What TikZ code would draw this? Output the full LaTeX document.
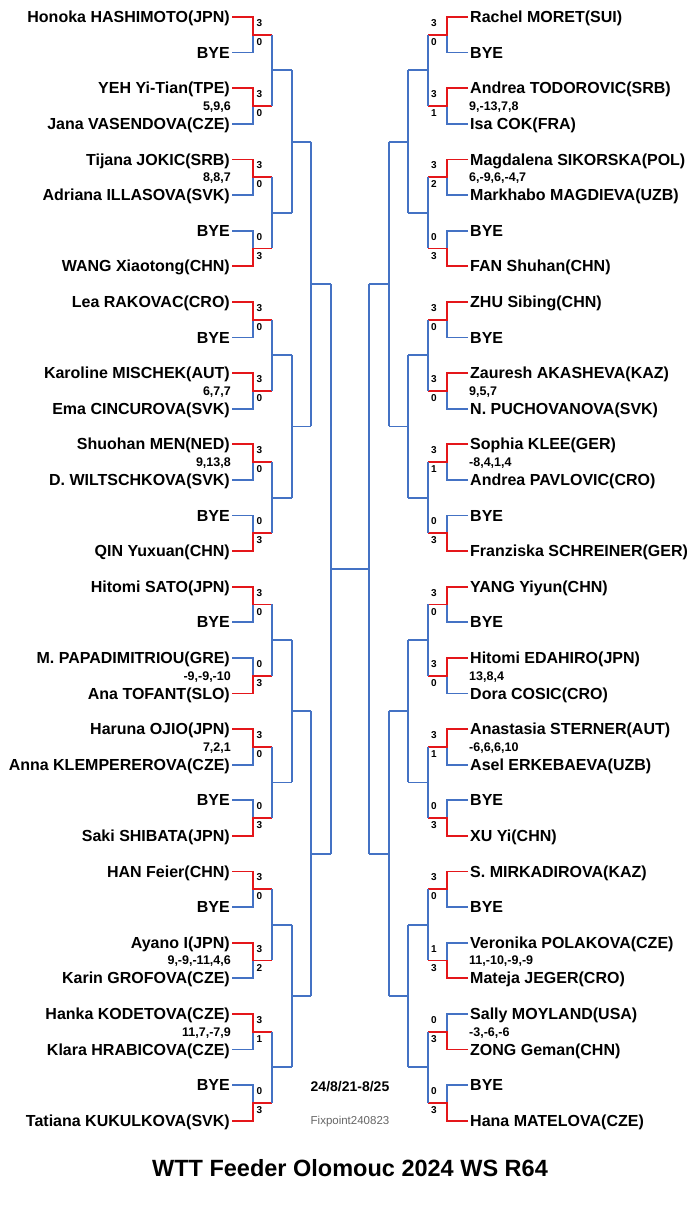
\documentclass[tikz,border=0pt]{standalone}
\usepackage{fontspec}
\setmainfont{Liberation Sans}
\usetikzlibrary{positioning}
\definecolor{LineBlue}{RGB}{68,114,196}
\definecolor{WinRed}{RGB}{228,22,26}

\begin{document}
\begin{tikzpicture}[x=1pt, y=-1pt,
    player/.style={font=\fontsize{16}{17}\selectfont\bfseries, inner sep=2pt, text height=11.5pt, text depth=0pt},
    games/.style={font=\fontsize{12.5}{13}\selectfont\bfseries, inner sep=1pt, text height=9pt, text depth=0pt},
    setno/.style={font=\fontsize{10}{10}\selectfont\bfseries, inner sep=0pt, text height=7.2pt, text depth=0pt},
    conn/.style={line width=1.8pt, LineBlue},
    win/.style={conn, WinRed}]
    \def\rh{35.6} \def\ytop{17}
    % Canvas
    \useasboundingbox (0,0) rectangle (700,1212);
    % Left half, first round
    \foreach \k/\pa/\pb/\sa/\sb/\gs in {
        0/Honoka HASHIMOTO(JPN)/BYE/3/0/{},
        1/YEH Yi-Tian(TPE)/Jana VASENDOVA(CZE)/3/0/{5,9,6},
        2/Tijana JOKIC(SRB)/Adriana ILLASOVA(SVK)/3/0/{8,8,7},
        3/BYE/WANG Xiaotong(CHN)/0/3/{},
        4/Lea RAKOVAC(CRO)/BYE/3/0/{},
        5/Karoline MISCHEK(AUT)/Ema CINCUROVA(SVK)/3/0/{6,7,7},
        6/Shuohan MEN(NED)/D. WILTSCHKOVA(SVK)/3/0/{9,13,8},
        7/BYE/QIN Yuxuan(CHN)/0/3/{},
        8/Hitomi SATO(JPN)/BYE/3/0/{},
        9/M. PAPADIMITRIOU(GRE)/Ana TOFANT(SLO)/0/3/{-9,-9,-10},
        10/Haruna OJIO(JPN)/Anna KLEMPEREROVA(CZE)/3/0/{7,2,1},
        11/BYE/Saki SHIBATA(JPN)/0/3/{},
        12/HAN Feier(CHN)/BYE/3/0/{},
        13/Ayano I(JPN)/Karin GROFOVA(CZE)/3/2/{9,-9,-11,4,6},
        14/Hanka KODETOVA(CZE)/Klara HRABICOVA(CZE)/3/1/{11,7,-7,9},
        15/BYE/Tatiana KUKULKOVA(SVK)/0/3/{}} {
            \pgfmathsetmacro\ya{\ytop+2*\k*\rh}
            \pgfmathsetmacro\yb{\ya+\rh}
            \pgfmathsetmacro\ym{\ya+0.5*\rh}
            \node[player, anchor=east] (La\k) at (232,\ya) {\pa};
            \node[player, anchor=east] (Lb\k) at (232,\yb) {\pb};
            \node[games, anchor=east] (Lg\k) at (232,\ym) {\gs};
            \node[setno] (Lsa\k) at (259.5,\ym-12) {\sa};
            \node[setno] (Lsb\k) at (259.5,\ym+7) {\sb};
            \coordinate (Lj1-\k) at (253,\ym);
            \coordinate (Lo1-\k) at (272,\ym);
            \ifnum\sa>\sb
                \draw[conn] (Lb\k.east) -| (Lj1-\k);
                \draw[win] (La\k.east) -| (Lj1-\k) -- (Lo1-\k);
            \else
                \draw[conn] (La\k.east) -| (Lj1-\k);
                \draw[win] (Lb\k.east) -| (Lj1-\k) -- (Lo1-\k);
            \fi
        }
    % Right half, first round
    \foreach \k/\pa/\pb/\sa/\sb/\gs in {
        0/Rachel MORET(SUI)/BYE/3/0/{},
        1/Andrea TODOROVIC(SRB)/Isa COK(FRA)/3/1/{9,-13,7,8},
        2/Magdalena SIKORSKA(POL)/Markhabo MAGDIEVA(UZB)/3/2/{6,-9,6,-4,7},
        3/BYE/FAN Shuhan(CHN)/0/3/{},
        4/ZHU Sibing(CHN)/BYE/3/0/{},
        5/Zauresh AKASHEVA(KAZ)/N. PUCHOVANOVA(SVK)/3/0/{9,5,7},
        6/Sophia KLEE(GER)/Andrea PAVLOVIC(CRO)/3/1/{-8,4,1,4},
        7/BYE/Franziska SCHREINER(GER)/0/3/{},
        8/YANG Yiyun(CHN)/BYE/3/0/{},
        9/Hitomi EDAHIRO(JPN)/Dora COSIC(CRO)/3/0/{13,8,4},
        10/Anastasia STERNER(AUT)/Asel ERKEBAEVA(UZB)/3/1/{-6,6,6,10},
        11/BYE/XU Yi(CHN)/0/3/{},
        12/S. MIRKADIROVA(KAZ)/BYE/3/0/{},
        13/Veronika POLAKOVA(CZE)/Mateja JEGER(CRO)/1/3/{11,-10,-9,-9},
        14/Sally MOYLAND(USA)/ZONG Geman(CHN)/0/3/{-3,-6,-6},
        15/BYE/Hana MATELOVA(CZE)/0/3/{}} {
            \pgfmathsetmacro\ya{\ytop+2*\k*\rh}
            \pgfmathsetmacro\yb{\ya+\rh}
            \pgfmathsetmacro\ym{\ya+0.5*\rh}
            \node[player, anchor=west] (Ra\k) at (468,\ya) {\pa};
            \node[player, anchor=west] (Rb\k) at (468,\yb) {\pb};
            \node[games, anchor=west] (Rg\k) at (468,\ym) {\gs};
            \node[setno] (Rsa\k) at (434,\ym-12) {\sa};
            \node[setno] (Rsb\k) at (434,\ym+7) {\sb};
            \coordinate (Rj1-\k) at (447,\ym);
            \coordinate (Ro1-\k) at (428,\ym);
            \ifnum\sa>\sb
                \draw[conn] (Rb\k.west) -| (Rj1-\k);
                \draw[win] (Ra\k.west) -| (Rj1-\k) -- (Ro1-\k);
            \else
                \draw[conn] (Ra\k.west) -| (Rj1-\k);
                \draw[win] (Rb\k.west) -| (Rj1-\k) -- (Ro1-\k);
            \fi
        }
    % Later rounds, both halves
    \foreach \sd/\sg in {L/1, R/-1} {
        \foreach \lv/\xa/\xb in {2/272/292, 3/292/311, 4/311/331} {
            \pgfmathtruncatemacro\pl{\lv-1}
            \pgfmathtruncatemacro\nj{16/2^(\lv-1)-1}
            \pgfmathtruncatemacro\gsz{2^\lv}
            \foreach \j in {0,...,\nj} {
                \pgfmathtruncatemacro\ja{2*\j}
                \pgfmathtruncatemacro\jb{2*\j+1}
                \pgfmathsetmacro\ym{\ytop+(\j*\gsz+\gsz/2-0.5)*\rh}
                \coordinate (\sd j\lv-\j) at ({350-\sg*(350-\xa)},\ym);
                \coordinate (\sd o\lv-\j) at ({350-\sg*(350-\xb)},\ym);
                \draw[conn] (\sd o\pl-\ja) -- (\sd o\pl-\jb);
                \draw[conn] (\sd j\lv-\j) -- (\sd o\lv-\j);
            }
        }
        \coordinate (\sd j5) at ({350-\sg*19},{\ytop+15.5*\rh});
        \draw[conn] (\sd o4-0) -- (\sd o4-1);
    }
    % Final
    \draw[conn] (Lj5) -- (Rj5);
    % Date, stamp and title
    \node[font=\fontsize{14}{14}\selectfont\bfseries] (date) at (350,1087) {24/8/21-8/25};
    \node[font=\fontsize{11.5}{12}\selectfont, black!60] (stamp) at (350,1122) {Fixpoint240823};
    \node[font=\fontsize{23.5}{24}\selectfont\bfseries] (title) at (350,1168) {WTT Feeder Olomouc 2024 WS R64};
\end{tikzpicture}
\end{document}
